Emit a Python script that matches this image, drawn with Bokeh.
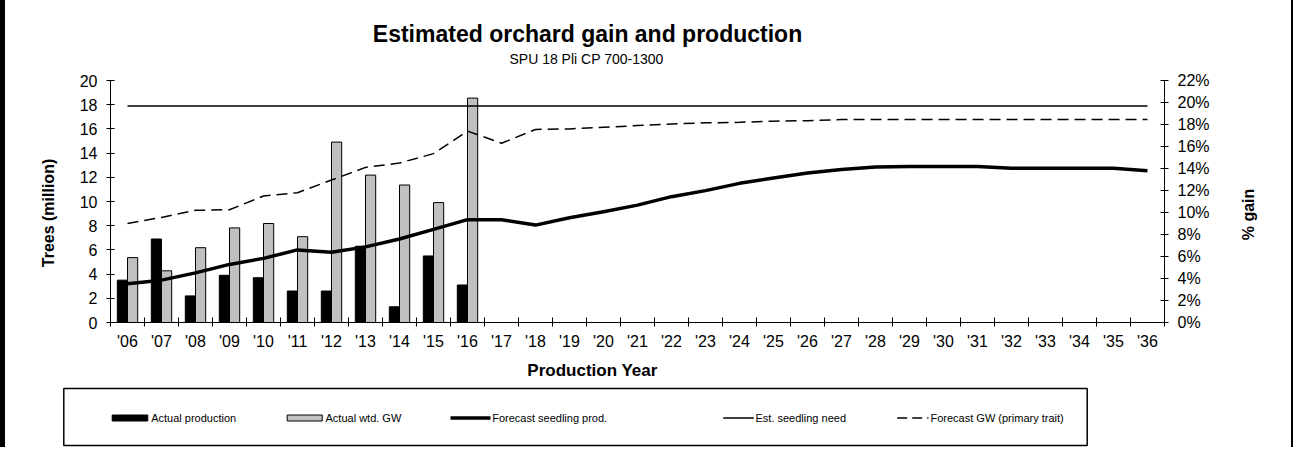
import math
from bokeh.plotting import figure
from bokeh.models import (Range1d, LinearAxis, FixedTicker, PrintfTickFormatter,
                          CustomJSTickFormatter)
from bokeh.layouts import column, row
from bokeh.embed import file_html
from bokeh.resources import INLINE
from bokeh.core.properties import value

# ---------------- data ----------------
years = ["'06", "'07", "'08", "'09", "'10", "'11", "'12", "'13", "'14", "'15", "'16",
         "'17", "'18", "'19", "'20", "'21", "'22", "'23", "'24", "'25", "'26",
         "'27", "'28", "'29", "'30", "'31", "'32", "'33", "'34", "'35", "'36"]

# Actual production (million trees), '06-'16
actual_production = [3.5, 6.9, 2.2, 3.9, 3.7, 2.6, 2.6, 6.3, 1.3, 5.5, 3.1]
# Actual weighted genetic worth (% gain), '06-'16
actual_wtd_gw = [5.9, 4.7, 6.8, 8.6, 9.0, 7.8, 16.4, 13.4, 12.5, 10.9, 20.4]
# Forecast seedling production (million trees), '06-'36
forecast_prod = [3.2, 3.5, 4.1, 4.8, 5.3, 6.0, 5.8, 6.25, 6.9, 7.7, 8.5,
                 8.5, 8.05, 8.65, 9.15, 9.7, 10.4, 10.9, 11.5, 11.95, 12.35,
                 12.65, 12.85, 12.9, 12.9, 12.9, 12.75, 12.75, 12.75, 12.75, 12.55]
# Forecast GW, primary trait (% gain), '06-'36
forecast_gw = [9.0, 9.55, 10.2, 10.25, 11.5, 11.8, 12.95, 14.1, 14.5, 15.35, 17.4,
               16.3, 17.55, 17.6, 17.75, 17.9, 18.05, 18.15, 18.2, 18.3, 18.35,
               18.45, 18.45, 18.45, 18.45, 18.45, 18.45, 18.45, 18.45, 18.45, 18.45]
# Estimated seedling need (million trees)
seedling_need = 17.9

left_ticks = list(range(0, 21, 2))
right_ticks = list(range(0, 23, 2))

title_text = "Estimated orchard gain and production"
subtitle_text = "SPU 18 Pli CP 700-1300"
x_title = "Production Year"
y_title = "Trees (million)"
y2_title = "% gain"
legend_labels = ["Actual production", "Actual wtd. GW", "Forecast seedling prod.",
                 "Est. seedling need", "Forecast GW (primary trait)"]

FONT = "Liberation Sans"
GRAY = "#C0C0C0"
W = 1286          # content width (left border of 5px is added by CSS)
X0 = 5            # content x offset in the page


def blank(width, height, flip=True, **kw):
    f = figure(width=width, height=height, output_backend="svg", toolbar_location=None,
               x_range=Range1d(0, width),
               y_range=Range1d(height, 0) if flip else Range1d(0, height),
               x_axis_type=None, y_axis_type=None, **kw)
    f.outline_line_color = None
    f.xgrid.visible = False
    f.ygrid.visible = False
    f.background_fill_color = "white"
    f.border_fill_color = "white"
    return f


# ---------------- header (title) ----------------
HH = 68
hdr = blank(W, HH, min_border=0)
hdr.text(x=[587 - X0], y=[33], text=[title_text], text_font=value(FONT),
         text_font_style="bold", text_font_size="23px", text_align="center",
         text_baseline="middle", text_color="black")
hdr.text(x=[586 - X0], y=[58], text=[subtitle_text], text_font=value(FONT),
         text_font_size="14px", text_align="center",
         text_baseline="middle", text_color="black")

# ---------------- main chart ----------------
n = len(years)
centers = [i + 0.5 for i in range(n)]
n_act = len(actual_production)
x_black = [centers[i] - 0.15 for i in range(n_act)]
x_gray = [centers[i] + 0.15 for i in range(n_act)]

MH = 292
BT, BB = 12, 38
p = figure(width=1165, height=MH, output_backend="svg", toolbar_location=None,
           x_range=Range1d(0, n), y_range=Range1d(0, 20),
           min_border_left=50, min_border_right=61, min_border_top=BT, min_border_bottom=BB)
p.extra_y_ranges = {"pct": Range1d(0, 22)}
p.outline_line_color = None
p.xgrid.visible = False
p.ygrid.visible = False
p.background_fill_color = "white"
p.border_fill_color = "white"

p.vbar(x=x_black, top=actual_production, bottom=0, width=0.3,
       fill_color="black", line_color="black", line_width=1)
p.vbar(x=x_gray, top=actual_wtd_gw, bottom=0, width=0.3, y_range_name="pct",
       fill_color=GRAY, line_color="black", line_width=1)

p.line(x=[centers[0], centers[-1]], y=[seedling_need, seedling_need],
       line_color="black", line_width=1.5)
p.line(x=centers, y=forecast_gw, y_range_name="pct", line_color="black",
       line_width=1.5, line_dash="11 6")
p.line(x=centers, y=forecast_prod, line_color="black", line_width=3.5, line_join="round")


def style_y(ax):
    ax.axis_line_color = "black"
    ax.axis_line_width = 1
    ax.major_tick_line_color = "black"
    ax.major_tick_in = 4
    ax.major_tick_out = 4
    ax.minor_tick_line_color = None
    ax.major_label_text_font = FONT
    ax.major_label_text_font_size = "16px"
    ax.major_label_text_color = "black"
    ax.major_label_standoff = 9


left = p.left[0]
left.ticker = FixedTicker(ticks=left_ticks)
style_y(left)

right = LinearAxis(y_range_name="pct", ticker=FixedTicker(ticks=right_ticks),
                   formatter=PrintfTickFormatter(format="%d%%"))
style_y(right)
p.add_layout(right, "right")

xa = p.below[0]
xa.ticker = FixedTicker(ticks=centers, minor_ticks=list(range(0, n + 1)))
xa.formatter = CustomJSTickFormatter(args=dict(labels=years),
                                     code="return labels[Math.floor(tick)] || '';")
xa.axis_line_color = "black"
xa.major_tick_in = 0
xa.major_tick_out = 0
xa.minor_tick_line_color = "black"
xa.minor_tick_in = 5
xa.minor_tick_out = 4
xa.major_label_text_font = FONT
xa.major_label_text_font_size = "16px"
xa.major_label_text_color = "black"
xa.major_label_standoff = 6

# ---------------- side axis titles (frames aligned with the main chart) ----------------
FR = MH - BT - BB   # frame height in px; y measured up from the frame bottom (page y 322)
lft = figure(width=60 - X0, height=MH, output_backend="svg", toolbar_location=None,
             x_range=Range1d(0, 60 - X0), y_range=Range1d(0, FR),
             x_axis_type=None, y_axis_type=None,
             min_border_left=0, min_border_right=0, min_border_top=BT, min_border_bottom=BB)
rgt = figure(width=66, height=MH, output_backend="svg", toolbar_location=None,
             x_range=Range1d(0, 66), y_range=Range1d(0, FR),
             x_axis_type=None, y_axis_type=None,
             min_border_left=0, min_border_right=0, min_border_top=BT, min_border_bottom=BB)
for f in (lft, rgt):
    f.outline_line_color = None
    f.xgrid.visible = False
    f.ygrid.visible = False
    f.background_fill_color = "white"
    f.border_fill_color = "white"

lft.text(x=[47.5 - X0], y=[322 - 212.5], text=[y_title], angle=math.pi / 2,
         text_font=value(FONT), text_font_style="bold", text_font_size="16px",
         text_align="center", text_baseline="middle", text_color="black")
rgt.text(x=[1247.5 - 1225], y=[322 - 214], text=[y2_title], angle=math.pi / 2,
         text_font=value(FONT), text_font_style="bold", text_font_size="16px",
         text_align="center", text_baseline="middle", text_color="black")

# ---------------- footer (x title + legend) ----------------
FH = 87
FY = 360
ftr = blank(W, FH, min_border=0)
ftr.text(x=[592 - X0], y=[370 - FY], text=[x_title], text_font=value(FONT),
         text_font_style="bold", text_font_size="17px", text_align="center",
         text_baseline="middle", text_color="black")

ly = 417.5 - FY
ftr.quad(left=63.3 - X0, right=1086.7 - X0, top=388 - FY, bottom=445 - FY, fill_color=None,
         line_color="black", line_width=1.5)
ftr.quad(left=111.7 - X0, right=147.3 - X0, top=ly - 3, bottom=ly + 3, fill_color="black",
         line_color="black", line_width=1)
ftr.quad(left=286.7 - X0, right=321.7 - X0, top=ly - 3, bottom=ly + 3, fill_color=GRAY,
         line_color="black", line_width=1)
ftr.line(x=[450 - X0, 490 - X0], y=[ly, ly], line_color="black", line_width=3.5)
ftr.line(x=[722.7 - X0, 753.3 - X0], y=[ly, ly], line_color="black", line_width=1.5)
ftr.line(x=[896.7 - X0, 928 - X0], y=[ly, ly], line_color="black", line_width=1.5,
         line_dash="10 5")
ftr.text(x=[150.7 - X0, 325 - X0, 491.7 - X0, 755 - X0, 930 - X0], y=[ly] * 5,
         text=legend_labels, text_font=value(FONT), text_font_size="11px",
         text_baseline="middle", text_align="left", text_color="black")

layout = column(hdr, row(lft, p, rgt, spacing=0), ftr, spacing=0,
                styles={"border-left": "5px solid black", "border-right": "2px solid black"})
open("out.html", "w").write(file_html(layout, INLINE))
